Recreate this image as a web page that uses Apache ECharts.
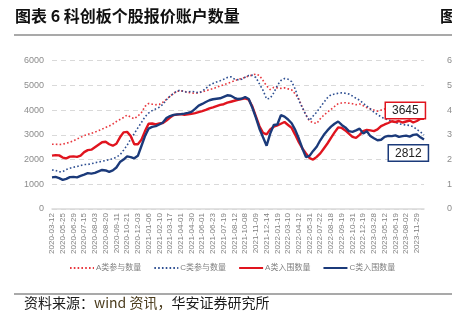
<!DOCTYPE html>
<html>
<head>
<meta charset="utf-8">
<script src="https://cdn.jsdelivr.net/npm/echarts@6/dist/echarts.min.js"></script>
<style>
  html, body { margin: 0; padding: 0; background: #fff; overflow: hidden; }
  #chart { width: 480px; height: 322px; }
</style>
</head>
<body>
<div id="chart"></div>
<script>
// Dates printed under the axis (one label every third observation)
const tickDates = [
  '2020-03-12','2020-05-25','2020-06-29','2020-07-15','2020-08-03','2020-08-20',
  '2020-09-11','2020-10-21','2020-12-03','2021-01-06','2021-02-10','2021-03-17',
  '2021-04-01','2021-04-30','2021-06-01','2021-06-23','2021-07-19','2021-08-12',
  '2021-10-08','2021-11-09','2021-12-14','2022-01-19','2022-03-10','2022-04-12',
  '2022-05-31','2022-07-22','2022-08-18','2022-09-19','2022-10-31','2022-12-19',
  '2023-03-28','2023-05-12','2023-06-19','2023-08-02','2023-11-29'
];
const labelStep = 3;
const pointCount = 105;

const yTicks = [0, 1000, 2000, 3000, 4000, 5000, 6000];

// A类参与数量
const aJoin = [
  2620,2620,2610,2620,2660,2700,2760,2830,2900,2970,
  3020,3060,3110,3170,3230,3300,3360,3440,3540,3620,
  3700,3800,3720,3650,3760,3900,4150,4270,4240,4220,
  4230,4320,4440,4560,4680,4760,4780,4760,4720,4700,
  4680,4700,4740,4780,4830,4870,4920,4980,5030,5080,
  5130,5190,5240,5280,5330,5380,5420,5460,5400,5200,
  4980,4830,4920,4900,4880,4900,4860,4820,4650,4450,
  4100,3800,3560,3490,3460,3650,3800,3920,4030,4150,
  4260,4290,4300,4280,4260,4220,4250,4180,4100,4060,
  4000,3960,4000,4050,4080,4100,4150,4200,4210,4230,
  4200,4220,4150,4050,3960
];
// C类参与数量
const cJoin = [
  1580,1560,1500,1510,1600,1650,1690,1720,1760,1800,
  1800,1830,1870,1900,1930,1960,2000,2030,2100,2190,
  2380,2580,2830,3050,3280,3500,3730,3880,3980,4050,
  4120,4230,4420,4560,4680,4780,4810,4730,4740,4760,
  4740,4700,4760,4880,5000,5080,5140,5190,5250,5320,
  5350,5260,5230,5250,5330,5400,5410,5320,5060,4800,
  4450,4480,4700,5000,5200,5280,5250,5150,4850,4400,
  4100,3800,3580,3760,3920,4120,4310,4500,4620,4650,
  4680,4700,4680,4650,4570,4480,4400,4280,4160,4050,
  3920,3820,3730,3650,3600,3560,3500,3450,3420,3400,
  3380,3330,3220,3120,3000
];
// A类入围数量
const aIn = [
  2160,2180,2170,2080,2050,2120,2130,2110,2160,2300,
  2380,2400,2500,2600,2700,2720,2620,2560,2640,2900,
  3100,3120,2950,2620,2620,2800,3150,3450,3460,3420,
  3460,3480,3580,3700,3800,3820,3840,3810,3830,3850,
  3880,3920,3960,4010,4070,4110,4160,4210,4240,4300,
  4340,4380,4420,4450,4480,4420,4150,3750,3350,3080,
  3020,3220,3330,3380,3450,3520,3400,3280,3000,2700,
  2450,2250,2060,2000,2110,2250,2450,2650,2880,3100,
  3300,3280,3180,3050,2920,2880,3000,3150,3200,3180,
  3150,3220,3350,3420,3480,3550,3520,3560,3500,3540,
  3580,3500,3560,3650,3645
];
// C类入围数量
const cIn = [
  1280,1300,1250,1180,1220,1290,1300,1280,1340,1390,
  1450,1430,1460,1520,1580,1560,1500,1560,1680,1900,
  2000,2130,2100,2050,2150,2550,2950,3250,3320,3350,
  3420,3500,3680,3760,3810,3830,3840,3860,3890,3930,
  4050,4180,4250,4330,4400,4440,4460,4480,4540,4600,
  4580,4500,4450,4460,4530,4450,4100,3700,3250,2900,
  2560,3050,3400,3420,3800,3740,3620,3470,3200,2850,
  2450,2100,2150,2350,2520,2780,3000,3180,3330,3450,
  3540,3400,3300,3150,3120,3180,3250,3050,3150,2950,
  2860,2780,2800,2920,2960,2950,2980,2920,2950,2970,
  2930,3000,3020,2900,2812
];

const categories = [];
for (let i = 0; i < pointCount; i++) {
  const k = i / labelStep;
  categories.push(i % labelStep === 0 && k < tickDates.length ? tickDates[k] : '');
}

const RED = '#E0141E';
const NAVY = '#1B3A7A';
const RED_DOT = '#E8383F';
const NAVY_DOT = '#2E4F92';
const FONT = '"Liberation Sans", "Noto Sans CJK SC", sans-serif';
const CJK = '"Noto Sans CJK SC", sans-serif';

const plainNumber = v => String(v);

const chart = echarts.init(document.getElementById('chart'), null, { renderer: 'canvas' });

chart.setOption({
  animation: false,
  backgroundColor: '#fff',
  textStyle: { fontFamily: FONT },
  grid: { left: 52, right: 56, top: 60.7, bottom: 113, containLabel: false },
  xAxis: {
    type: 'category',
    data: categories,
    boundaryGap: false,
    axisLine: { lineStyle: { color: '#D9D9D9', width: 1.5 } },
    axisTick: { show: false },
    axisLabel: {
      interval: 0,
      rotate: 90,
      fontSize: 8,
      color: '#808080',
      margin: 4,
      fontFamily: FONT
    },
    splitLine: { show: false }
  },
  yAxis: {
    type: 'value',
    min: yTicks[0],
    max: yTicks[yTicks.length - 1],
    interval: 1000,
    axisLine: { show: false },
    axisTick: { show: false },
    axisLabel: { fontSize: 9, color: '#8C8C8C', margin: 8, fontFamily: FONT, formatter: plainNumber },
    splitLine: { lineStyle: { color: '#D9D9D9', type: [5, 4], width: 1 } }
  },
  legend: {
    left: 64,
    top: 259,
    itemWidth: 24,
    itemHeight: 10,
    itemGap: 12,
    itemStyle: { opacity: 0 },
    textStyle: { fontSize: 8, color: '#7F7F7F', fontFamily: FONT, padding: [0, 0, 0, -3] },
    data: ['A类参与数量', 'C类参与数量', 'A类入围数量', 'C类入围数量']
  },
  series: [
    {
      name: 'A类参与数量', type: 'line', data: aJoin, symbol: 'none',
      lineStyle: { color: RED_DOT, width: 1.6, type: [1.6, 2.2] },
      itemStyle: { color: RED_DOT }, z: 2
    },
    {
      name: 'C类参与数量', type: 'line', data: cJoin, symbol: 'none',
      lineStyle: { color: NAVY_DOT, width: 1.6, type: [1.6, 2.2] },
      itemStyle: { color: NAVY_DOT }, z: 2
    },
    {
      name: 'A类入围数量', type: 'line', data: aIn, symbol: 'none',
      lineStyle: { color: RED, width: 2.4 },
      itemStyle: { color: RED }, z: 3
    },
    {
      name: 'C类入围数量', type: 'line', data: cIn, symbol: 'none',
      lineStyle: { color: NAVY, width: 2.4 },
      itemStyle: { color: NAVY }, z: 4
    }
  ]
});

// Boxed callout for the latest value of a series, placed relative to its last point
function endCallout(values, color, dx, dy) {
  const last = values.length - 1;
  const p = chart.convertToPixel({ gridIndex: 0 }, [last, values[last]]);
  return {
    type: 'text', x: p[0] + dx, y: p[1] + dy, z: 100,
    style: {
      text: String(values[last]),
      font: '12px "Liberation Sans", sans-serif',
      fill: '#222',
      backgroundColor: '#fff',
      borderColor: color,
      borderWidth: 1.5,
      padding: [2, 6, 1, 6]
    }
  };
}

// Secondary value scale on the right edge, sharing the left axis ticks
const rightLabels = yTicks.map(v => ({
  type: 'text',
  x: 447,
  y: chart.convertToPixel({ yAxisIndex: 0 }, v),
  style: {
    text: String(v),
    font: '9px "Liberation Sans", sans-serif',
    fill: '#8C8C8C',
    verticalAlign: 'middle'
  }
}));

chart.setOption({
  graphic: [
    {
      type: 'text', left: 15, top: 8,
      style: { text: '图表 6 科创板个股报价账户数量', font: 'bold 16px ' + CJK, fill: '#111' }
    },
    {
      type: 'text', left: 440, top: 8,
      style: { text: '图表', font: 'bold 16px ' + CJK, fill: '#111' }
    },
    {
      type: 'line', shape: { x1: 14, y1: 35, x2: 480, y2: 35 },
      style: { stroke: '#8C8C8C', lineWidth: 1.5 }
    },
    {
      type: 'line', shape: { x1: 14, y1: 294, x2: 480, y2: 294 },
      style: { stroke: '#8C8C8C', lineWidth: 1.5 }
    },
    {
      type: 'text', left: 24, top: 296,
      style: {
        text: '{a|资料来源：}{b|wind 资讯，}{a|华安证券研究所}',
        rich: {
          a: { fontFamily: CJK, fontSize: 14, fill: '#1a1a1a' },
          b: { fontFamily: CJK, fontSize: 14, fill: '#4A3B1C' }
        }
      }
    },
    endCallout(aIn, RED, -38, -16),
    endCallout(cIn, NAVY, -35, 6)
  ].concat(rightLabels)
});
</script>
</body>
</html>
